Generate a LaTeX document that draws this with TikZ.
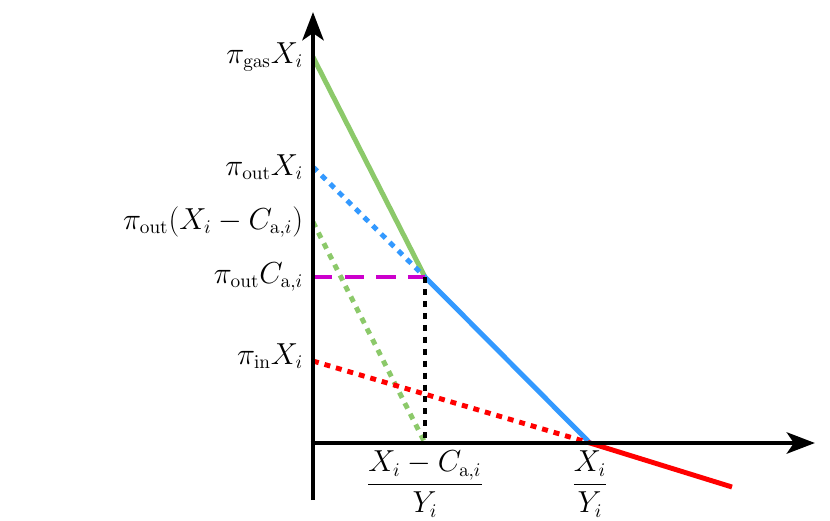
\documentclass[tikz,border=0pt]{standalone}
\usetikzlibrary{arrows.meta}
\definecolor{lgreen}{RGB}{140,201,106}
\definecolor{lblue}{RGB}{51,153,255}
\definecolor{lred}{RGB}{255,0,0}
\definecolor{lmag}{RGB}{204,0,204}
\begin{document}
\begin{tikzpicture}[x=0.02cm,y=-0.02cm,
  axis/.style={line width=2.8pt,-{Stealth[length=16pt,width=12pt,inset=4pt]}},
  curve/.style={line width=2.8pt},
  dots/.style={line width=2.8pt,dash pattern=on 3.4pt off 3.4pt},
  lab/.style={font=\fontsize{16}{19}\selectfont,inner sep=2pt},
  ]
\useasboundingbox (0,0) rectangle (830,520);
% points
\coordinate (O) at (313,443);
\coordinate (ybot) at (313,500);
\coordinate (ytop) at (313,12);
\coordinate (xtip) at (815,443);
\coordinate (G) at (313,57);
\coordinate (B) at (313,167);
\coordinate (D) at (313,222);
\coordinate (M) at (313,277);
\coordinate (R) at (313,361);
\coordinate (K) at (425,277);
\coordinate (Kx) at (425,443);
\coordinate (Z) at (590,443);
\coordinate (E) at (732,487);
% colored lines
\draw[curve,lgreen] (G) -- (K);
\draw[dots,lblue] (B) -- (K);
\draw[curve,lblue] (K) -- (Z);
\draw[dots,lgreen] (D) -- (Kx);
\draw[curve,lmag,dash pattern=on 11pt off 7pt] (M) -- (K);
\draw[dots,black] (K) -- (Kx);
\draw[dots,lred] (R) -- (Z);
\draw[curve,lred] (Z) -- (E);
% axes
\draw[axis] (ybot) -- (ytop);
\draw[axis] ([xshift=-1.4pt]O) -- (xtip);
% labels
\node[lab,anchor=east] (lG) at (307,57) {$\pi_{\mathrm{gas}}X_i$};
\node[lab,anchor=east] (lB) at (307,167) {$\pi_{\mathrm{out}}X_i$};
\node[lab,anchor=east] (lD) at (307,222) {$\pi_{\mathrm{out}}(X_i-C_{\mathrm{a},i})$};
\node[lab,anchor=east] (lM) at (307,277) {$\pi_{\mathrm{out}}C_{\mathrm{a},i}$};
\node[lab,anchor=east] (lR) at (307,356) {$\pi_{\mathrm{in}}X_i$};
\node[lab,anchor=north] (lK) at (425,447) {$\displaystyle\frac{X_i-C_{\mathrm{a},i}}{Y_i}$};
\node[lab,anchor=north] (lZ) at (590,447) {$\displaystyle\frac{X_i}{Y_i}$};
\end{tikzpicture}
\end{document}
